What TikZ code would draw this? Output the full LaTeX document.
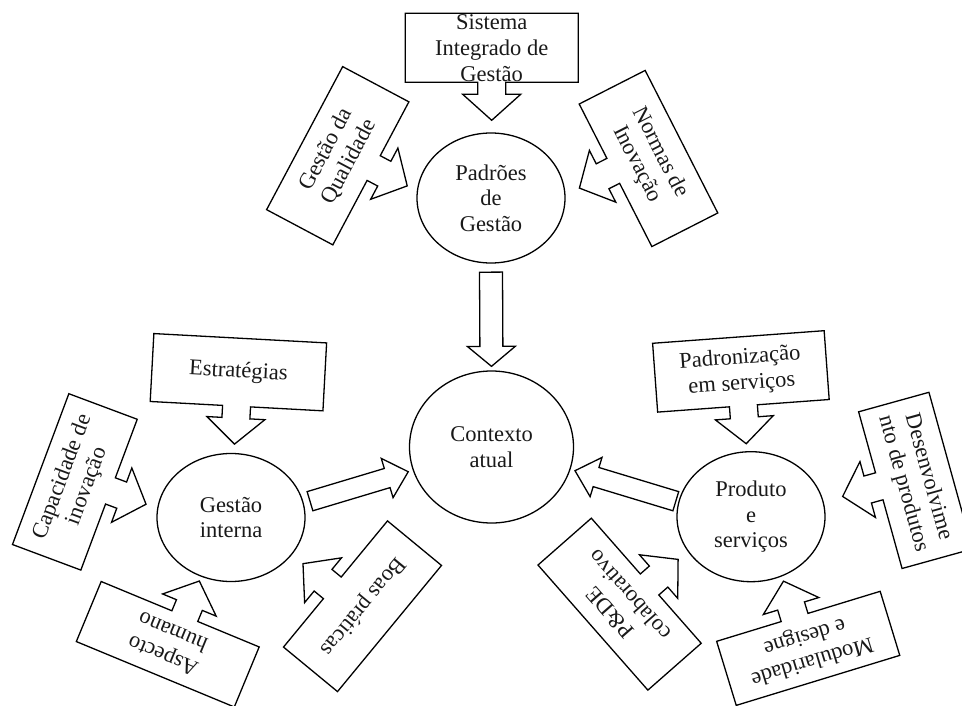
\documentclass[tikz,border=0pt]{standalone}
\usepackage{fontspec}
\setmainfont{Liberation Serif}
\usetikzlibrary{calc,shapes.geometric}
\tikzset{
  shapeline/.style={draw=black, line width=1.3pt, line join=miter},
  lbl/.style={font=\fontsize{22.5}{26}\selectfont, align=center, inner sep=0pt, text=black!90},
  ell/.style={ellipse, draw=black, line width=1.3pt, inner sep=0pt, font=\fontsize{22.5}{25.5}\selectfont, align=center, text=black!90},
}
% callout: name, x, y (pixels, y down), angle, width, height, arrow offset, text
\newcommand\callout[8]{%
 \pgfmathsetmacro\coW{#5/2}\pgfmathsetmacro\coH{#6/2}%
 \pgfmathsetmacro\coB{\coH+12}\pgfmathsetmacro\coT{\coH+38}%
 \pgfmathsetmacro\coSL{#7-14}\pgfmathsetmacro\coSR{#7+14}%
 \pgfmathsetmacro\coHL{#7-29}\pgfmathsetmacro\coHR{#7+29}%
 \begin{scope}[shift={(#2,-#3)},rotate=#4]
  \draw[shapeline] (-\coW,\coH) -- (\coW,\coH) -- (\coW,-\coH) -- (\coSR,-\coH) -- (\coSR,-\coB) -- (\coHR,-\coB) -- (#7,-\coT) -- (\coHL,-\coB) -- (\coSL,-\coB) -- (\coSL,-\coH) -- (-\coW,-\coH) -- cycle;
  \node[lbl,rotate=#4] (#1) at (0,0) {#8};
 \end{scope}}
% block arrow between two named coordinates: from, to, shaft width, head width, head length
\newcommand\blockarrow[5]{%
 \draw[shapeline] let \p1=($(#2)-(#1)$), \n1={atan2(\y1,\x1)}, \n2={veclen(\x1,\y1)} in
   [shift={(#1)},rotate=\n1] (0,#3/2) -- (\n2-#5,#3/2) -- (\n2-#5,#4/2) -- (\n2,0) -- (\n2-#5,-#4/2) -- (\n2-#5,-#3/2) -- (0,-#3/2) -- cycle;}
\begin{document}
\begin{tikzpicture}[x=1pt,y=1pt]
\useasboundingbox (0,0) rectangle (962,-706);
\clip (0,0) rectangle (962,-706);
% central ellipses
\node[ell, minimum width=148pt, minimum height=130pt] (pad) at (491,-198) {Padrões\\de\\Gestão};
\node[ell, minimum width=164pt, minimum height=152pt] (ctx) at (491.5,-447) {Contexto\\atual};
\node[ell, minimum width=148pt, minimum height=128pt] (gi) at (231,-517.5) {Gestão\\interna};
\node[ell, minimum width=148pt, minimum height=130pt] (pr) at (751,-516.7) {Produto\\e\\serviços};
% connectors between ellipses
\coordinate (t1) at ($(pad.south)+(0,-8.5)$);
\coordinate (h1) at ($(ctx.north)+(0,4)$);
\blockarrow{t1}{h1}{23}{48}{20}
\coordinate (t2) at ($(gi.center)+(79,16.3)$);
\coordinate (h2) at ($(ctx.center)+(-83.2,-24.7)$);
\blockarrow{t2}{h2}{20}{41}{22}
\coordinate (t3) at ($(pr.center)+(-75.2,15.5)$);
\coordinate (h3) at ($(ctx.center)+(83.5,-23.7)$);
\blockarrow{t3}{h3}{20}{41}{22}
% callouts
\callout{sig}{491.7}{47.8}{0}{173}{69}{0}{Sistema\\Integrado de\\Gestão}
\callout{gq}{337.75}{155.75}{62}{162}{75}{6}{Gestão da\\Qualidade}
\callout{ni}{648.5}{158.5}{-63}{160}{74}{-5}{Normas de\\Inovação}
\callout{est}{238.4}{372.2}{-3.1}{173}{68}{0}{Estratégias}
\callout{cap}{74.85}{481.9}{69.5}{161}{73}{4}{Capacidade de\\inovação}
\callout{asp}{167.75}{644.25}{157.5}{171}{65}{-5}{Aspecto\\humano}
\callout{boas}{362.5}{606.25}{-129.5}{163.5}{70}{5}{Boas práticas}
\callout{pdz}{740.9}{371.4}{4.2}{172}{69}{0}{Padronização\\em serviços}
\callout{des}{915.5}{480.4}{-74.5}{162.6}{73}{-4}{Desenvolvime\\nto de produtos}
\callout{pde}{619.6}{604.15}{131.3}{166.5}{71}{-5}{P\&DE\\colaborativo}
\callout{mod}{808.2}{648.35}{197}{171}{67}{4}{Modularidade\\e designe}
\end{tikzpicture}
\end{document}
